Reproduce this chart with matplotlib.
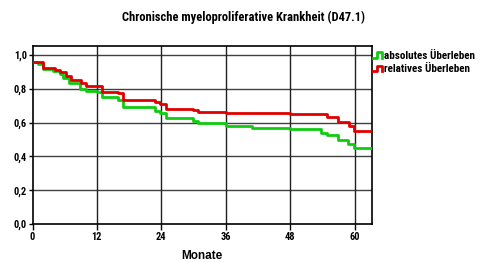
import matplotlib
matplotlib.use("Agg")
import matplotlib.pyplot as plt
from matplotlib.lines import Line2D
from matplotlib.legend_handler import HandlerBase
from matplotlib import font_manager

names = {f.name for f in font_manager.fontManager.ttflist}
NARROW = 'Liberation Sans'
for cand in ['Roboto Condensed', 'Archivo Narrow', 'PT Sans Narrow']:
    if cand in names:
        NARROW = cand
        break
plt.rcParams['font.family'] = ['Liberation Sans', 'DejaVu Sans']

title = "Chronische myeloproliferative Krankheit (D47.1)"
xlabel = "Monate"
series_names = ["absolutes Überleben", "relatives Überleben"]

abs_months = [0, 1, 2, 3.9, 5.1, 5.7, 6.8, 8.8, 10, 12, 12.9, 16, 16.9, 22.8, 23.7, 24.8,
              29.9, 30.8, 36, 40.9, 47.9, 53.8, 54.8, 56.9, 58.8, 59.9, 63.2]
abs_surv = [0.958, 0.947, 0.917, 0.905, 0.89, 0.862, 0.836, 0.797, 0.787, 0.779, 0.75, 0.734,
            0.694, 0.67, 0.655, 0.625, 0.611, 0.596, 0.582, 0.566, 0.56, 0.54, 0.527, 0.497,
            0.473, 0.448, 0.448]

rel_months = [0, 2, 4.2, 5.1, 6.2, 7.1, 9.1, 10, 12.9, 16, 16.9, 22.8, 23.7, 24.8, 29.9,
              30.8, 36, 48, 54.8, 56.9, 58.9, 59.9, 63.2]
rel_surv = [0.96, 0.923, 0.911, 0.897, 0.878, 0.852, 0.832, 0.817, 0.783, 0.773, 0.734, 0.72,
            0.708, 0.679, 0.675, 0.665, 0.659, 0.651, 0.631, 0.606, 0.58, 0.552, 0.552]

x_ticks = [0, 12, 24, 36, 48, 60]
y_ticks = [0.0, 0.2, 0.4, 0.6, 0.8, 1.0]
y_ticklabels = ["0,0", "0,2", "0,4", "0,6", "0,8", "1,0"]

GREEN = '#10cc10'
RED = '#e00000'

fig = plt.figure(figsize=(4.8, 2.62), dpi=100)
ax = fig.add_axes([32.5/480, 38/262, (371.7-32.5)/480, (224-46)/262])

for v in y_ticks[1:]:
    ax.axhline(v, color='#404040', lw=1.0, zorder=1)
for v in x_ticks[1:]:
    ax.axvline(v, color='#202020', lw=1.0, zorder=1)

ax.step(abs_months, abs_surv, where='post', color=GREEN, lw=2.0, zorder=3,
        label=series_names[0])
ax.step(rel_months, rel_surv, where='post', color=RED, lw=2.0, zorder=3,
        label=series_names[1])

tick_font = {'family': [NARROW, 'DejaVu Sans'], 'weight': 'bold', 'size': 7.5}
ax.set_xlim(0, 63.2)
ax.set_ylim(0, 1.053)
ax.set_xticks(x_ticks)
ax.set_xticklabels([str(t) for t in x_ticks], fontdict=tick_font)
ax.set_yticks(y_ticks)
ax.set_yticklabels(y_ticklabels, fontdict=tick_font)
ax.tick_params(axis='x', length=4, width=1, pad=2, direction='out')
ax.tick_params(axis='y', length=3, width=1, pad=1, direction='out')
for s in ax.spines.values():
    s.set_linewidth(1.2)
    s.set_color('black')

fig.text(202/480, 1 - 256/262, xlabel, ha='center', va='center', fontsize=8.5,
         fontweight='bold', family=['Liberation Sans', 'DejaVu Sans'])
fig.text(243/480, 1 - 17/262, title, ha='center', va='center', fontsize=9,
         fontweight='bold', family=[NARROW, 'DejaVu Sans'])


class StepHandler(HandlerBase):
    def create_artists(self, legend, orig_handle, xdescent, ydescent, width, height,
                       fontsize, trans):
        w, h = width, height
        xs = [0, 0.45*w, 0.45*w, w, w]
        ys = [0.1*h, 0.1*h, 0.8*h, 0.8*h, 0.1*h]
        ln = Line2D([x - xdescent for x in xs], [y - ydescent for y in ys],
                    color=orig_handle.get_color(), lw=2.0)
        ln.set_transform(trans)
        return [ln]


handles, labels = ax.get_legend_handles_labels()
leg = fig.legend(handles, labels, loc='upper left', bbox_to_anchor=(373/480, 1 - 50.5/262),
                 frameon=False, handlelength=0.85, handletextpad=0.15,
                 labelspacing=0.3, borderpad=0, borderaxespad=0,
                 handler_map={h: StepHandler() for h in handles},
                 prop={'weight': 'bold', 'size': 8, 'family': [NARROW, 'DejaVu Sans']})

fig.savefig('out.png', dpi=100)
